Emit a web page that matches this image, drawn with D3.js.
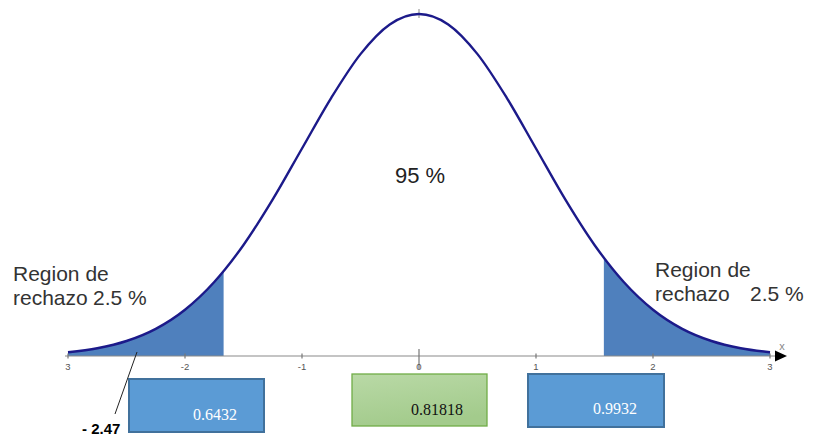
<!DOCTYPE html>
<html><head><meta charset="utf-8">
<script src="https://cdn.jsdelivr.net/npm/d3@7"></script>
<style>body{margin:0;background:#fff}svg{display:block}</style>
</head><body>
<script>
// ---- data ----
const zValues = [-3,-2.75,-2.5,-2.25,-2,-1.75,-1.5,-1.25,-1,-0.75,-0.5,-0.25,0,0.25,0.5,0.75,1,1.25,1.5,1.75,2,2.25,2.5,2.75,3];
const density = [0.0044,0.0091,0.0175,0.0317,0.0540,0.0863,0.1295,0.1826,0.2420,0.3011,0.3521,0.3867,0.3989,0.3867,0.3521,0.3011,0.2420,0.1826,0.1295,0.0863,0.0540,0.0317,0.0175,0.0091,0.0044];
const tickValues = [-3,-2,-1,0,1,2,3];
const tickLabels = ["3","-2","-1","0","1","2","3"];
const leftCritical = -1.67, rightCritical = 1.58;
const centerLabel = "95 %";
const regionLabel = ["Region de", "rechazo", "2.5 %"];
const boxValues = ["0.6432", "0.81818", "0.9932"];
const markLabel = "- 2.47";

const W = 814, H = 438;
const svg = d3.select("body").append("svg").attr("width", W).attr("height", H);
const x = d3.scaleLinear().domain([-3, 3]).range([68, 770]);
const y = d3.scaleLinear().domain([0, 0.3989]).range([356, 14]);
const pts = zValues.map((z, i) => [z, density[i]]);

const defs = svg.append("defs");
defs.append("clipPath").attr("id", "cl").append("rect")
  .attr("x", 0).attr("y", 0).attr("width", x(leftCritical)).attr("height", H);
defs.append("clipPath").attr("id", "cr").append("rect")
  .attr("x", x(rightCritical)).attr("y", 0).attr("width", W - x(rightCritical)).attr("height", H);
const g = defs.append("linearGradient").attr("id", "gg").attr("x1", 0).attr("y1", 0).attr("x2", 0.3).attr("y2", 1);
g.append("stop").attr("offset", "0%").attr("stop-color", "#b9d9a6");
g.append("stop").attr("offset", "100%").attr("stop-color", "#a3cb8c");

const area = d3.area().x(d => x(d[0])).y0(y(0)).y1(d => y(d[1])).curve(d3.curveMonotoneX);
const line = d3.line().x(d => x(d[0])).y(d => y(d[1])).curve(d3.curveMonotoneX);

["cl", "cr"].forEach(id => svg.append("path").datum(pts).attr("d", area)
  .attr("fill", "#4f80bd").attr("clip-path", `url(#${id})`));

// axis
svg.append("line").attr("x1", 65).attr("x2", 777).attr("y1", y(0)).attr("y2", y(0))
  .attr("stroke", "#8a8a8a").attr("stroke-width", 1.2);
svg.append("path").attr("d", `M775,${y(0)-5.5}L787,${y(0)}L775,${y(0)+5.5}Z`).attr("fill", "#000");
svg.append("text").attr("x", 782).attr("y", 350).attr("text-anchor", "middle")
  .attr("font-family", "Arial, Liberation Sans, sans-serif").attr("font-size", 11).attr("fill", "#888").text("x");

svg.selectAll(".tk").data(tickValues).enter().append("line")
  .attr("x1", d => x(d)).attr("x2", d => x(d))
  .attr("y1", d => d === 0 ? y(0) - 7 : y(0) - 2.5).attr("y2", d => d === 0 ? y(0) + 13 : y(0) + 2.5)
  .attr("stroke", "#777").attr("stroke-width", 1.2);
svg.selectAll(".tl").data(tickValues).enter().append("text")
  .attr("x", d => x(d)).attr("y", 370).attr("text-anchor", "middle")
  .attr("font-family", "Arial, Liberation Sans, sans-serif").attr("font-size", 9.5).attr("fill", "#555")
  .text((d, i) => tickLabels[i]);
// peak marker
svg.append("line").attr("x1", x(0)).attr("x2", x(0)).attr("y1", y(0.3989) - 5).attr("y2", y(0.3989) + 4)
  .attr("stroke", "#888").attr("stroke-width", 1);

svg.append("path").datum(pts).attr("d", line).attr("fill", "none")
  .attr("stroke", "#1c1a8a").attr("stroke-width", 2.4);

const font = "Arial, Liberation Sans, sans-serif";
svg.append("text").attr("x", 420).attr("y", 183).attr("text-anchor", "middle")
  .attr("font-family", font).attr("font-size", 22).attr("fill", "#222").text(centerLabel);

function region(x0, y0, xp, dy) {
  const t = svg.append("text").attr("font-family", font).attr("font-size", 21).attr("fill", "#333");
  t.append("tspan").attr("x", x0).attr("y", y0).text(regionLabel[0]);
  t.append("tspan").attr("x", x0).attr("y", y0 + dy).text(regionLabel[1]);
  t.append("tspan").attr("x", xp).attr("y", y0 + dy).text(regionLabel[2]);
}
region(13, 281, 93, 24);
region(655, 277, 750, 24);

// boxes
const boxes = [
  {x0: 129, y0: 379, x1: 264, y1: 432, fill: "#5b9bd5", stroke: "#41719c", color: "#fff", tx: 193, ty: 420},
  {x0: 352, y0: 374, x1: 487, y1: 426, fill: "url(#gg)", stroke: "#70ad47", color: "#111", tx: 411, ty: 415},
  {x0: 528, y0: 374, x1: 664, y1: 427, fill: "#5b9bd5", stroke: "#41719c", color: "#fff", tx: 593, ty: 414}
];
boxes.forEach((b, i) => {
  svg.append("rect").attr("x", b.x0).attr("y", b.y0).attr("width", b.x1 - b.x0).attr("height", b.y1 - b.y0)
    .attr("fill", b.fill).attr("stroke", b.stroke).attr("stroke-width", i === 1 ? 1.3 : 2);
  svg.append("text").attr("x", b.tx).attr("y", b.ty).attr("font-family", "Liberation Serif, Times New Roman, serif")
    .attr("font-size", 16).attr("fill", b.color).text(boxValues[i]);
});

// -2.47 marker
svg.append("line").attr("x1", 137).attr("y1", 352).attr("x2", 115).attr("y2", 414)
  .attr("stroke", "#222").attr("stroke-width", 1);
svg.append("text").attr("x", 82).attr("y", 434).attr("font-family", font).attr("font-weight", "bold")
  .attr("font-size", 15).attr("fill", "#000").text(markLabel);
</script>
</body></html>
